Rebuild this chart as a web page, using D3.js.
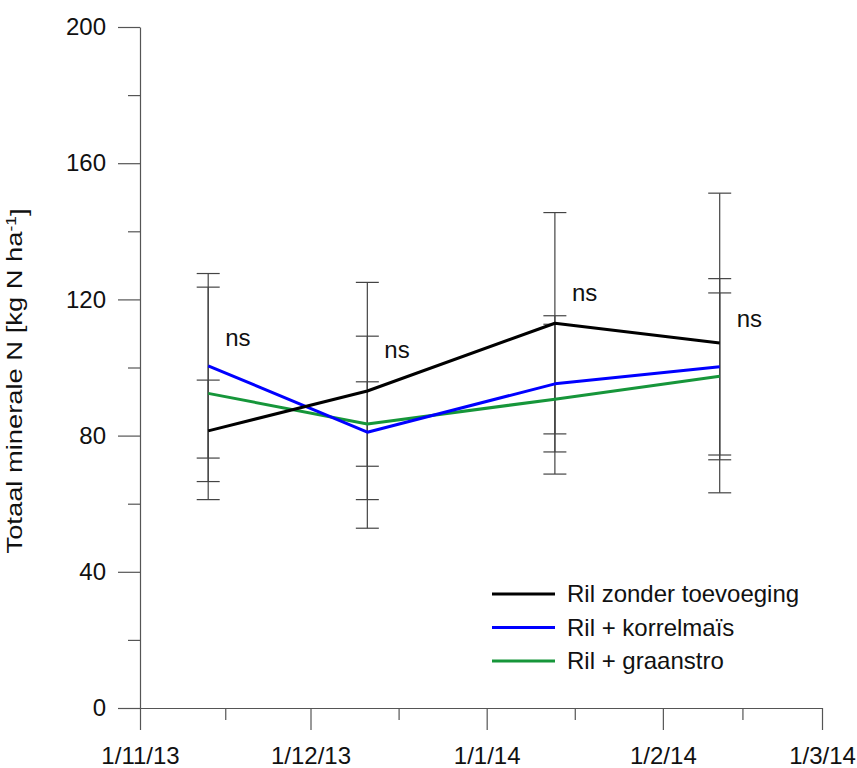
<!DOCTYPE html>
<html>
<head>
<meta charset="utf-8">
<script src="https://cdn.jsdelivr.net/npm/d3@7"></script>
<style>
  body { margin: 0; background: #fff; }
  svg text { font-family: Arial, "Liberation Sans", sans-serif; fill: #111; }
</style>
</head>
<body>
<svg id="chart"></svg>
<script>
// sampling dates
const dates = ['2013-11-13', '2013-12-11', '2014-01-13', '2014-02-11'];

// series names and colours
const seriesNames = ['Ril zonder toevoeging', 'Ril + korrelmaïs', 'Ril + graanstro'];
const seriesColours = ['#000000', '#0000ff', '#16963a'];

// means per series (kg N/ha)
const zonderMean = [81.4, 93.1, 113.0, 107.2];
const korrelMean = [100.5, 81.0, 95.2, 100.2];
const graanMean = [92.4, 83.4, 90.7, 97.4];

// error bar half-widths
const zonderErr = [14.9, 31.9, 32.5, 44.0];
const korrelErr = [27.1, 28.2, 20.0, 25.9];
const graanErr = [31.2, 12.4, 22.0, 24.5];

// "ns" annotation heights
const nsLabels = ['ns', 'ns', 'ns', 'ns'];
const nsY = [106.3, 102.8, 119.5, 111.9];

// axis ticks
const yTicks = [0, 40, 80, 120, 160, 200];
const yMinor = [20, 60, 100, 140, 180];
const xTicks = ['2013-11-01', '2013-12-01', '2014-01-01', '2014-02-01', '2014-03-01'];

const parse = d3.timeParse('%Y-%m-%d');
const fmt = d3.timeFormat('%-d/%-m/%y');

const config = {
  width: 857,
  height: 768,
  margin: { top: 27, right: 35, bottom: 60, left: 140 },
};
const w = config.width - config.margin.left - config.margin.right;
const h = config.height - config.margin.top - config.margin.bottom;

const svg = d3.select('#chart')
  .attr('width', config.width)
  .attr('height', config.height);

const g = svg.append('g')
  .attr('transform', `translate(${config.margin.left},${config.margin.top})`);

const x = d3.scaleTime()
  .domain([parse(xTicks[0]), parse(xTicks[xTicks.length - 1])])
  .range([0, w]);
const y = d3.scaleLinear().domain([0, 200]).range([h, 0]);

const series = seriesNames.map((name, i) => ({
  name,
  colour: seriesColours[i],
  values: dates.map((d, j) => ({
    date: parse(d),
    mean: [zonderMean, korrelMean, graanMean][i][j],
    err: [zonderErr, korrelErr, graanErr][i][j],
  })),
}));

const axisColour = '#555';

// minor x ticks halfway between the major ones
const xMajor = xTicks.map(parse);
const xMinor = d3.pairs(xMajor).map(([a, b]) => x.invert((x(a) + x(b)) / 2));

// y axis
g.append('g')
  .call(d3.axisLeft(y).tickValues(yMinor).tickSize(12).tickSizeOuter(0).tickFormat(''))
  .call(a => a.select('.domain').remove());
g.append('g')
  .attr('class', 'y-axis')
  .call(d3.axisLeft(y).tickValues(yTicks).tickSize(22).tickSizeOuter(0).tickPadding(12))
  .call(a => a.selectAll('text').style('font-size', '24px').attr('fill', '#111'));

// x axis
g.append('g')
  .attr('transform', `translate(0,${h})`)
  .call(d3.axisBottom(x).tickValues(xMinor).tickSize(12).tickSizeOuter(0).tickFormat(''))
  .call(a => a.select('.domain').remove());
g.append('g')
  .attr('class', 'x-axis')
  .attr('transform', `translate(0,${h})`)
  .call(d3.axisBottom(x).tickValues(xMajor).tickSize(22).tickSizeOuter(0).tickPadding(17).tickFormat(fmt))
  .call(a => a.selectAll('text').style('font-size', '24px').attr('fill', '#111'));

g.selectAll('.domain, .tick line').attr('stroke', axisColour).attr('stroke-width', 1.2);

// error bars (drawn under the lines)
const capHalf = 11.5;
const bars = g.append('g').attr('class', 'error-bars');
series.forEach(s => {
  s.values.forEach(v => {
    const cx = x(v.date);
    const top = y(v.mean + v.err);
    const bot = y(v.mean - v.err);
    bars.append('line')
      .attr('x1', cx).attr('x2', cx).attr('y1', top).attr('y2', bot);
    [top, bot].forEach(cy => {
      bars.append('line')
        .attr('x1', cx - capHalf).attr('x2', cx + capHalf)
        .attr('y1', cy).attr('y2', cy);
    });
  });
});
bars.selectAll('line').attr('stroke', '#444').attr('stroke-width', 1.2);

// series lines
const line = d3.line().x(d => x(d.date)).y(d => y(d.mean));
g.selectAll('.series')
  .data(series.slice().reverse())
  .join('path')
  .attr('class', 'series')
  .attr('d', d => line(d.values))
  .attr('fill', 'none')
  .attr('stroke', d => d.colour)
  .attr('stroke-width', 3)
  .attr('stroke-linejoin', 'round');

// "ns" annotations
g.selectAll('.ns')
  .data(dates)
  .join('text')
  .attr('class', 'ns')
  .attr('x', d => x(parse(d)) + 17)
  .attr('y', (d, i) => y(nsY[i]))
  .style('font-size', '24px')
  .text((d, i) => nsLabels[i]);

// y axis title (stretched a bit, as in the original)
const title = svg.append('text')
  .attr('transform', 'translate(22,381) rotate(-90)')
  .attr('text-anchor', 'middle')
  .attr('textLength', 345)
  .attr('lengthAdjust', 'spacingAndGlyphs')
  .style('font-size', '22px');
title.append('tspan').text('Totaal minerale N [kg N ha');
title.append('tspan').attr('dy', '-0.45em').style('font-size', '14px').text('-1');
title.append('tspan').attr('dy', '0.45em').text(']');

// legend
const legend = svg.append('g').attr('transform', 'translate(492,594)');
const item = legend.selectAll('g')
  .data(series)
  .join('g')
  .attr('transform', (d, i) => `translate(0,${i * 33.5})`);
item.append('line')
  .attr('x1', 0).attr('x2', 63)
  .attr('stroke', d => d.colour)
  .attr('stroke-width', 3);
item.append('text')
  .attr('x', 75)
  .attr('dy', '0.35em')
  .style('font-size', '24px')
  .text(d => d.name);
</script>
</body>
</html>
